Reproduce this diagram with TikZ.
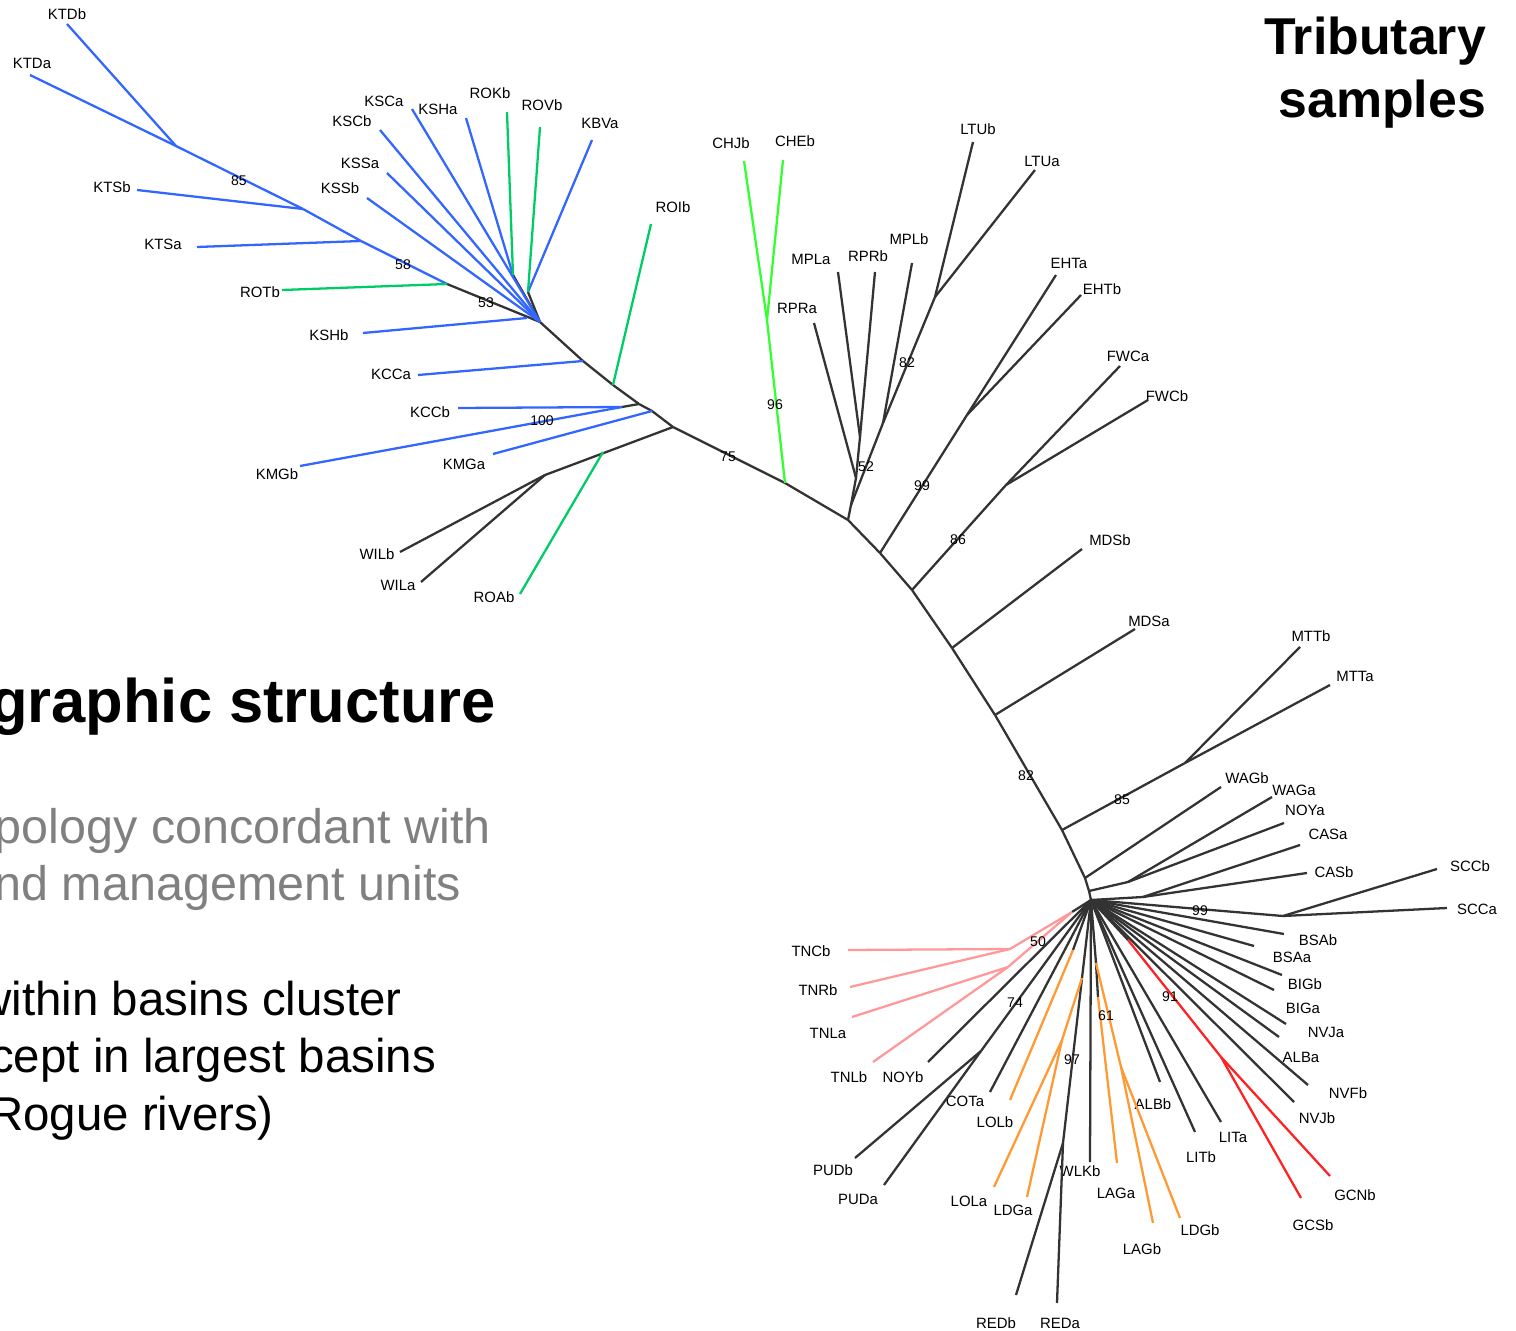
\documentclass[tikz,border=0pt]{standalone}
\usepackage{fontspec}
\setmainfont{Liberation Sans}
\definecolor{kblue}{RGB}{51,102,255}
\definecolor{rgreen}{RGB}{0,204,102}
\definecolor{lime}{RGB}{51,255,51}
\definecolor{pinkish}{RGB}{255,153,153}
\definecolor{orng}{RGB}{255,153,51}
\definecolor{redd}{RGB}{255,34,34}
\definecolor{dark}{RGB}{51,51,51}
\definecolor{txtgray}{RGB}{128,128,128}

\begin{document}
\begin{tikzpicture}[x=0.02cm, y=-0.02cm, line width=1.3pt,
  lbl/.style={font=\fontsize{8.5}{10}\selectfont, inner sep=0pt},
  boot/.style={font=\fontsize{8}{9}\selectfont, inner sep=0pt},
  big/.style={font=\bfseries\fontsize{35}{40}\selectfont, inner sep=0pt},
  grey/.style={font=\fontsize{27.6}{32}\selectfont, txtgray, inner sep=0pt},
  body/.style={font=\fontsize{27}{32}\selectfont, inner sep=0pt}]
\useasboundingbox (0,0) rectangle (1516,1331);
\clip (0,0) rectangle (1516,1331);

% leaves: name / tip / label
\foreach \n/\x/\y/\lx/\ly in {KTDb/67/24/67/14, KTDa/30/75/32/63, KTSb/137/190/112/187,
  KTSa/197/247/163/244, ROTb/282/290/260/292, KSHb/363/333/329/335, KSSb/367/198/340/188,
  KSSa/387/173/360/163, KSCb/380/130/352/121, KSCa/412/109/384/101, KSHa/466/118/438/109,
  ROKb/507/112/490/93, ROVb/540/127/542/105, KBVa/592/140/600/123, ROIb/651/224/673/207,
  KCCa/418/375/391/374, KCCb/458/408/430/412, KMGb/300/466/277/474, KMGa/493/454/464/464,
  WILb/400/552/377/554, WILa/421/582/398/585, ROAb/520/594/494/597,
  CHJb/744/161/731/143, CHEb/783/160/795/141, RPRa/814/323/797/308, MPLa/838/272/811/259,
  RPRb/875/272/868/256, MPLb/912/263/909/239, LTUb/973/142/978/129, LTUa/1035/170/1042/161,
  EHTa/1056/275/1069/263, EHTb/1081/295/1102/289, FWCa/1120/366/1128/356, FWCb/1148/400/1167/396,
  MDSb/1082/549/1110/540, MDSa/1135/629/1149/621, MTTb/1300/647/1311/636, MTTa/1330/685/1355/676,
  WAGb/1221/787/1247/778, WAGa/1272/797/1294/790, NOYa/1284/823/1305/810, CASa/1300/845/1328/834,
  CASb/1307/873/1334/872, SCCb/1437/869/1470/866, SCCa/1447/908/1477/909,
  BSAb/1284/934/1318/940, BSAa/1254/946/1292/957, BIGb/1282/975/1305/984, BIGa/1274/990/1303/1008,
  NVJa/1286/1024/1326/1032, ALBa/1279/1037/1301/1057, NVFb/1308/1085/1348/1093,
  NVJb/1294/1102/1317/1118, GCNb/1330/1176/1355/1195, GCSb/1301/1198/1313/1225,
  LITa/1221/1122/1233/1137, LITb/1195/1132/1201/1157, ALBb/1160/1082/1153/1104,
  LDGb/1180/1218/1200/1230, LAGb/1153/1223/1142/1249, LAGa/1117/1163/1116/1193,
  WLKb/1090/1162/1080/1171, REDa/1057/1303/1060/1323, REDb/1016/1295/996/1323,
  LDGa/1027/1197/1013/1210, LOLa/994/1187/969/1201, LOLb/1010/1100/995/1122,
  COTa/990/1092/965/1101, PUDa/884/1185/858/1199, PUDb/855/1158/833/1170,
  NOYb/928/1062/903/1077, TNLb/873/1062/849/1077, TNLa/852/1017/828/1033,
  TNRb/850/987/818/990, TNCb/848/950/811/951}{
  \coordinate (\n) at (\x,\y);
  \node[lbl] (t\n) at (\lx,\ly) {\n};
}

% internal nodes
\foreach \n/\x/\y in {tKT/176/146, k1/303/209, k2/361/241, k3/447/284, k4/527/318,
  hubK/540/322, kA/513/275, kB/528/292, k5/583/361, k6/613/385, k7/639/404, k7b/622/407,
  k8/652/411, k9/673/427, kW/545/475, kR/603/452, k10/785/483, kC/767/320, G/848/520,
  gH/851/505, gP1/856/478, gP2/860/437, gP3/883/423, gP4/935/297,
  b1/880/553, b2/912/590, b3/952/648, b4/995/715, b5/1062/830, b6/1085/878, b7/1089/891,
  hub/1091/900, e1/967/415, f1/1006/485, m1/1185/763, w1/1128/882, c1/1143/897,
  s1/1283/916, r0/1128/940, r1/1221/1057, l1/1096/963, l2/1098/997, l3/1121/1067,
  o1/1073/950, d0/1063/1143, d1/1082/978, d2/1062/1040, u1/981/1051,
  p0/1072/912, p1/1010/949, p2/1008/967}
  \coordinate (\n) at (\x,\y);

% branches
\foreach \a/\b in {k3/hubK, kA/hubK, kB/hubK, hubK/k5, k5/k6, k6/k7, k7/k8, k8/k9, k9/k10,
  k10/G, k7/k7b, k9/kW, kW/WILb, kW/WILa, G/gH, gH/gP1, gP1/RPRa, gP1/gP2, gP2/MPLa,
  gP2/RPRb, gH/gP3, gP3/MPLb, gP3/gP4, gP4/LTUb, gP4/LTUa, G/b1, b1/b2, b2/b3, b3/b4,
  b4/b5, b5/b6, b6/b7, b7/hub, b1/e1, e1/EHTa, e1/EHTb, b2/f1, f1/FWCa, f1/FWCb, b3/MDSb,
  b4/MDSa, b5/m1, m1/MTTb, m1/MTTa, b6/WAGb, b7/w1, w1/WAGa, w1/NOYa, hub/c1, c1/CASa,
  c1/CASb, hub/s1, s1/SCCb, s1/SCCa, hub/BSAb, hub/BSAa, hub/BIGb, hub/BIGa, hub/NVJa,
  hub/ALBa, hub/NVFb, hub/NVJb, hub/LITa, hub/LITb, hub/ALBb, hub/WLKb, hub/COTa,
  hub/NOYb, hub/r0, hub/l1, l1/l2, hub/o1, hub/d0, d0/REDa, d0/REDb, hub/u1, u1/PUDb,
  u1/PUDa, hub/p0}
  \draw[dark] (\a) -- (\b);
\foreach \a/\b in {tKT/KTDb, tKT/KTDa, tKT/k1, k1/KTSb, k1/k2, k2/KTSa, k2/k3, k4/KSHb,
  hubK/KSSb, hubK/KSSa, hubK/KSCb, hubK/KSCa, kA/KSHa, kB/KBVa, k5/KCCa, k7b/KCCb,
  k7b/KMGb, k8/KMGa}
  \draw[kblue] (\a) -- (\b);
\foreach \a/\b in {k3/ROTb, kA/ROKb, kB/ROVb, k6/ROIb, kR/ROAb}
  \draw[rgreen] (\a) -- (\b);
\foreach \a/\b in {k10/kC, kC/CHJb, kC/CHEb}
  \draw[lime] (\a) -- (\b);
\foreach \a/\b in {r0/r1, r1/GCNb, r1/GCSb}
  \draw[redd] (\a) -- (\b);
\foreach \a/\b in {l1/l3, l3/LAGb, l3/LDGb, l2/LAGa, o1/LOLb, d1/d2, d2/LOLa, d2/LDGa}
  \draw[orng] (\a) -- (\b);
\foreach \a/\b in {p0/p1, p1/TNCb, p1/TNRb, p0/p2, p2/TNLa, p2/TNLb}
  \draw[pinkish] (\a) -- (\b);

% bootstrap values
\foreach \n/\x/\y/\v in {bs1/239/181/85, bs2/403/265/58, bs3/486/303/53, bs4/542/421/100,
  bs5/728/457/75, bs6/775/405/96, bs7/866/467/52, bs8/907/363/82, bs9/922/486/99,
  bs10/958/540/86, bs11/1026/776/82, bs12/1122/800/85, bs13/1200/911/99, bs14/1038/942/50,
  bs15/1015/1003/74, bs16/1170/997/91, bs17/1106/1016/61, bs18/1072/1060/97}
  \node[boot] (\n) at (\x,\y) {\v};

% text
\node[font=\bfseries\fontsize{29.5}{34}\selectfont, inner sep=0pt, anchor=base east] (trib) at (1487,55) {Tributary};
\node[font=\bfseries\fontsize{29.5}{34}\selectfont, inner sep=0pt, anchor=base east] (samp) at (1487,118) {samples};
\node[big, anchor=base east] (head) at (497,722) {graphic structure};
\node[grey, anchor=base east] (g1) at (492,843) {pology concordant with};
\node[grey, anchor=base east] (g2) at (462,900) {nd management units};
\node[body, anchor=base east] (p1t) at (403,1015) {within basins cluster};
\node[body, anchor=base east] (p2t) at (437,1072) {cept in largest basins};
\node[body, anchor=base east] (p3t) at (275,1130) {Rogue rivers)};
\end{tikzpicture}
\end{document}
